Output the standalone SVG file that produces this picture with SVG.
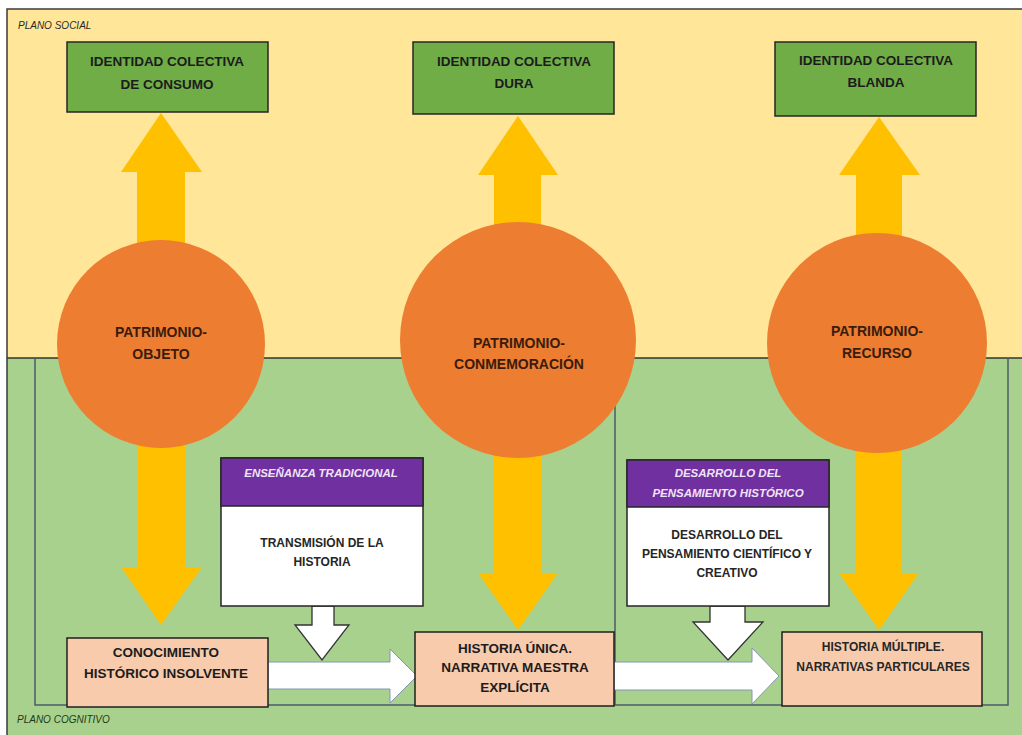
<svg xmlns="http://www.w3.org/2000/svg" width="1022" height="735" viewBox="0 0 1022 735">
<style>
text{font-family:"Liberation Sans",Arial,sans-serif;font-weight:bold;text-anchor:middle}
.t{font-size:13.5px;fill:#1c1c1c}
.c{font-size:14px;fill:#3a1c0c}
.p{font-size:11.5px;font-style:italic;fill:#efe4f7}
.w{font-size:12px;fill:#262626}
.plane{font-size:10px;font-style:italic;font-weight:normal;text-anchor:start}
.green{fill:#70AD47;stroke:#262626;stroke-width:1.5}
.peach{fill:#F8CBAD;stroke:#1f1f1f;stroke-width:1.5}
.purple{fill:#7030A0;stroke:#262626;stroke-width:1.5}
.white{fill:#ffffff;stroke:#262626;stroke-width:1.5}
.circ{fill:#ED7D31}
.ya{fill:#FFC000}
.wa{fill:#ffffff;stroke:#8496b0;stroke-width:1}
.wd{fill:#ffffff;stroke:#333333;stroke-width:1.3}
.frame{fill:none;stroke:#4d5b6b;stroke-width:1.5}
</style>
<rect x="0" y="0" width="1022" height="735" fill="#ffffff"/>
<rect x="7" y="9" width="1016" height="349" fill="#FFE699"/>
<rect x="7" y="358" width="1016" height="378" fill="#A9D18E"/>
<path d="M7,736 L7,9 L1022,9" fill="none" stroke="#3a3a3a" stroke-width="1.5"/>
<line x1="7" y1="358" x2="1022" y2="358" stroke="#333333" stroke-width="1.5"/>
<path class="frame" d="M35,358 L35,705 L1008,705 L1008,358 M615,358 L615,705"/>
<text class="plane" x="18" y="29" fill="#2a2a2a">PLANO SOCIAL</text>
<text class="plane" x="17" y="723" fill="#1f3a14">PLANO COGNITIVO</text>

<g id="connectors">
<path class="ya" d="M161,113 L202,172 L185,172 L185,260 L137,260 L137,172 L121,172 Z"/>
<path class="ya" d="M137,430 L185,430 L185,567 L202,567 L161,625 L121,567 L137,567 Z"/>
<path class="ya" d="M518,116 L558,175 L541,175 L541,260 L494,260 L494,175 L478,175 Z"/>
<path class="ya" d="M494,430 L541,430 L541,573 L558,573 L518,630 L478,573 L494,573 Z"/>
<path class="ya" d="M879,117 L920,175 L902,175 L902,260 L856,260 L856,175 L839,175 Z"/>
<path class="ya" d="M856,430 L902,430 L902,573 L919,573 L879,630 L839,573 L856,573 Z"/>
<path class="wa" d="M268,662 L390,662 L390,649 L417,676 L390,703 L390,689 L268,689 Z"/>
<path class="wa" d="M614,662 L752,662 L752,648 L779,676 L752,704 L752,690 L614,690 Z"/>
<path class="wd" d="M312,606 L334,606 L334,625 L349,625 L322,660 L295,625 L312,625 Z"/>
<path class="wd" d="M710,606 L745,606 L745,622 L763,622 L728,660 L693,622 L710,622 Z"/>
</g>

<g id="ic-consumo">
<rect class="green" x="67" y="42" width="201" height="70"/>
<text class="t" x="167" y="66">IDENTIDAD COLECTIVA</text>
<text class="t" x="167" y="89">DE CONSUMO</text>
</g>
<g id="ic-dura">
<rect class="green" x="413" y="42" width="201" height="72"/>
<text class="t" x="514" y="66">IDENTIDAD COLECTIVA</text>
<text class="t" x="514" y="88">DURA</text>
</g>
<g id="ic-blanda">
<rect class="green" x="775" y="42" width="201" height="74"/>
<text class="t" x="876" y="65">IDENTIDAD COLECTIVA</text>
<text class="t" x="876" y="87">BLANDA</text>
</g>

<g id="patrimonio-objeto">
<circle class="circ" cx="161" cy="344" r="104"/>
<text class="c" x="161" y="337">PATRIMONIO-</text>
<text class="c" x="161" y="359">OBJETO</text>
</g>
<g id="patrimonio-conmemoracion">
<circle class="circ" cx="518" cy="340" r="118"/>
<text class="c" x="519" y="348">PATRIMONIO-</text>
<text class="c" x="519" y="369">CONMEMORACIÓN</text>
</g>
<g id="patrimonio-recurso">
<circle class="circ" cx="877" cy="343" r="110"/>
<text class="c" x="877" y="336">PATRIMONIO-</text>
<text class="c" x="877" y="358">RECURSO</text>
</g>

<g id="ensenanza-tradicional">
<rect class="white" x="221" y="458" width="202" height="148"/>
<rect class="purple" x="221" y="458" width="202" height="48"/>
<text class="p" x="321" y="477">ENSEÑANZA TRADICIONAL</text>
<text class="w" x="322" y="547">TRANSMISIÓN DE LA</text>
<text class="w" x="322" y="566">HISTORIA</text>
</g>
<g id="desarrollo-pensamiento">
<rect class="white" x="627" y="460" width="202" height="146"/>
<rect class="purple" x="627" y="460" width="202" height="47"/>
<text class="p" x="728" y="477">DESARROLLO DEL</text>
<text class="p" x="728" y="497">PENSAMIENTO HISTÓRICO</text>
<text class="w" x="727" y="539">DESARROLLO DEL</text>
<text class="w" x="727" y="558">PENSAMIENTO CIENTÍFICO Y</text>
<text class="w" x="727" y="577">CREATIVO</text>
</g>

<g id="conocimiento">
<rect class="peach" x="67" y="638" width="201" height="69"/>
<text class="t" x="166" y="657">CONOCIMIENTO</text>
<text class="t" x="166" y="678">HISTÓRICO INSOLVENTE</text>
</g>
<g id="historia-unica">
<rect class="peach" x="415" y="632" width="199" height="74"/>
<text class="t" x="515" y="653">HISTORIA ÚNICA.</text>
<text class="t" x="515" y="672">NARRATIVA MAESTRA</text>
<text class="t" x="515" y="692">EXPLÍCITA</text>
</g>
<g id="historia-multiple">
<rect class="peach" x="782" y="632" width="200" height="74"/>
<text class="w" x="883" y="651">HISTORIA MÚLTIPLE.</text>
<text class="w" x="883" y="671">NARRATIVAS PARTICULARES</text>
</g>
</svg>
